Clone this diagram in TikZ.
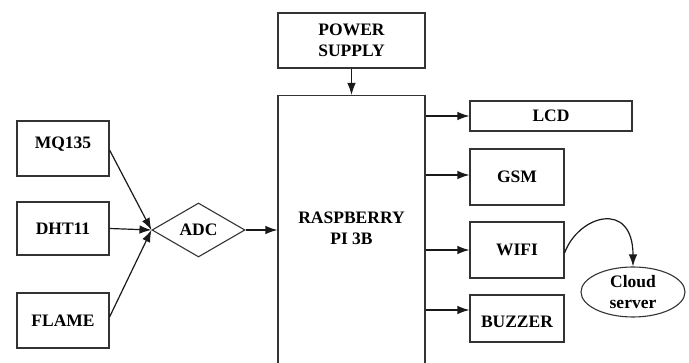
\documentclass[tikz,border=0pt]{standalone}
\usepackage{fontspec}
\setmainfont{Liberation Serif}
\usetikzlibrary{shapes.geometric,arrows.meta}
\tikzset{
  box/.style={draw=black!80, line width=1.1pt, rectangle, inner sep=0pt, align=center,
    font=\fontsize{17.5}{21}\selectfont\bfseries},
  lbl/.style={inner sep=0pt, align=center, font=\fontsize{17.5}{21}\selectfont\bfseries},
  conn/.style={draw=black!90, line width=1.2pt, -{Latex[length=12pt,width=8.5pt]}},
}
\begin{document}
\begin{tikzpicture}[x=1pt,y=-1pt]
\useasboundingbox (0,0) rectangle (689,363);
% sensors
\node[box, minimum width=92, minimum height=55] (mq) at (63,148.5) {};
\node[lbl] (mqt) at (63,144) {MQ135};
\node[box, minimum width=92, minimum height=53] (dht) at (63,228.5) {DHT11};
\node[box, minimum width=92, minimum height=55] (flame) at (63,320.5) {FLAME};
% ADC
\node[box, diamond, aspect=1.7, minimum width=93, minimum height=54] (adc) at (198.5,230) {ADC};
% power and raspberry
\node[box, minimum width=147, minimum height=55] (ps) at (351.5,40.5) {POWER\\SUPPLY};
\node[box, minimum width=147, minimum height=285, anchor=north] (rpi) at (351.5,95) {};
\node[lbl] (rpit) at (351.5,228) {RASPBERRY\\PI 3B};
% outputs
\node[box, minimum width=162, minimum height=30] (lcd) at (551,116) {LCD};
\node[box, minimum width=94, minimum height=56] (gsm) at (517,177) {GSM};
\node[box, minimum width=94, minimum height=56] (wifi) at (517,250) {WIFI};
\node[box, minimum width=94, minimum height=47] (buz) at (517,318.5) {};
\node[lbl] (buzt) at (517,322) {BUZZER};
\node[box, ellipse, minimum width=104, minimum height=50] (cloud) at (633,292) {Cloud\\server};
% connectors
\draw[conn] (mq.east |- 0,150) -- (adc.west);
\draw[conn] (dht.east) -- (adc.west);
\draw[conn] (flame.east |- 0,317) -- (adc.west);
\draw[conn] (adc.east) -- (rpi.west |- adc.east);
\draw[conn] (ps.south) -- (rpi.north);
\draw[conn] (rpi.east |- lcd.west) -- (lcd.west);
\draw[conn] (rpi.east |- 0,175) -- (gsm.west |- 0,175);
\draw[conn] (rpi.east |- 0,250) -- (wifi.west |- 0,250);
\draw[conn] (rpi.east |- 0,310) -- (buz.west |- 0,310);
\draw[conn] (wifi.east |- 0,253) .. controls +(14,-38) and +(0,-67) .. (cloud.north);
\end{tikzpicture}
\end{document}
